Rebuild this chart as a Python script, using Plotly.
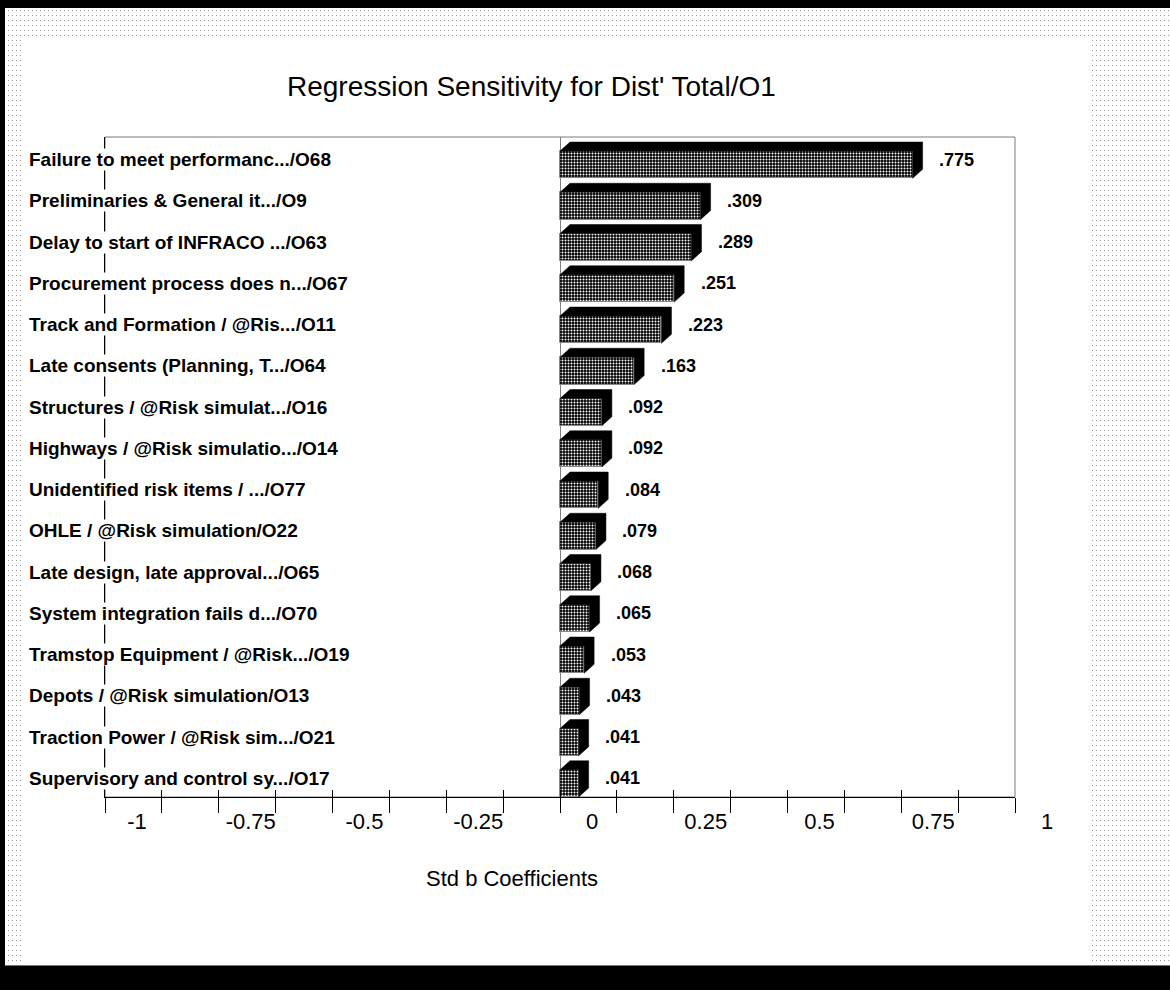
import base64
import plotly.graph_objects as go

# ---------------- data ----------------
labels = [
    "Failure to meet performanc.../O68",
    "Preliminaries & General it.../O9",
    "Delay to start of INFRACO .../O63",
    "Procurement process does n.../O67",
    "Track and Formation / @Ris.../O11",
    "Late consents (Planning, T.../O64",
    "Structures / @Risk simulat.../O16",
    "Highways / @Risk simulatio.../O14",
    "Unidentified risk items / .../O77",
    "OHLE / @Risk simulation/O22",
    "Late design, late approval.../O65",
    "System integration fails d.../O70",
    "Tramstop Equipment / @Risk.../O19",
    "Depots / @Risk simulation/O13",
    "Traction Power / @Risk sim.../O21",
    "Supervisory and control sy.../O17",
]
values = [0.775, 0.309, 0.289, 0.251, 0.223, 0.163, 0.092, 0.092,
          0.084, 0.079, 0.068, 0.065, 0.053, 0.043, 0.041, 0.041]
tick_vals = [-1, -0.75, -0.5, -0.25, 0, 0.25, 0.5, 0.75, 1]
tick_text = ["-1", "-0.75", "-0.5", "-0.25", "0", "0.25", "0.5", "0.75", "1"]
title_text = "Regression Sensitivity for Dist' Total/O1"
x_title = "Std b Coefficients"

# ---------------- layout geometry ----------------
W, H = 1170, 990
L, R, T, B = 105, 155, 137, 193
PW, PH = W - L - R, H - T - B
n = len(values)
pos = list(range(n))
XR = [-1, 1]
px_x = (XR[1] - XR[0]) / PW          # data units per pixel (x)
px_y = n / PH                         # data units per pixel (y)

FONT = "Liberation Sans, Arial, sans-serif"

face_lo = -0.16
face_w = 0.66
dxd = 10 * px_x
dyd = 9 * px_y

# 3D top/right faces computed from values
poly_x, poly_y = [], []
for k, v in zip(pos, values):
    yt = k + face_lo
    yb = yt + face_w
    xs = [0, dxd, v + dxd, v + dxd, v, v, 0]
    ys = [yt, yt - dyd, yt - dyd, yb - dyd, yb, yt, yt]
    poly_x += xs + [None]
    poly_y += ys + [None]

fig = go.Figure()
fig.add_trace(go.Bar(
    x=values, y=pos, orientation="h", width=face_w, offset=face_lo,
    marker=dict(color="black",
                pattern=dict(shape=".", fgcolor="white", bgcolor="black",
                             size=3, solidity=0.35, fillmode="replace"),
                line=dict(color="#888888", width=1)),
    hoverinfo="skip", showlegend=False))
fig.add_trace(go.Scatter(
    x=poly_x, y=poly_y, mode="lines", fill="toself", fillcolor="black",
    line=dict(color="black", width=0.5), hoverinfo="skip", showlegend=False))
# helper trace for the overlay tick axis
fig.add_trace(go.Scatter(x=[values[0]], y=[pos[0]], xaxis="x2", mode="markers",
                         marker=dict(opacity=0), hoverinfo="skip", showlegend=False))

annotations = []
for k, (lab, v) in enumerate(zip(labels, values)):
    annotations.append(dict(
        x=(28 - L) / PW, xref="paper", y=k, yref="y", xanchor="left",
        yanchor="middle", yshift=-2, text=lab, showarrow=False,
        bgcolor="white", borderpad=0,
        font=dict(family=FONT, size=19, color="black", weight="bold")))
    annotations.append(dict(
        x=v + 24.5 * px_x, xref="x", y=k, yref="y", xanchor="left",
        yanchor="middle", yshift=-2, text=f"{v:.3f}".lstrip("0"),
        showarrow=False,
        font=dict(family=FONT, size=18, color="black", weight="bold")))
annotations.append(dict(
    x=(531 - L) / PW, xref="paper", y=1 + (T - 86) / PH, yref="paper",
    text=title_text, showarrow=False, xanchor="center", yanchor="middle",
    font=dict(family=FONT, size=28, color="black")))
annotations.append(dict(
    x=(512 - L) / PW, xref="paper", y=-(878 - (H - B)) / PH, yref="paper",
    text=x_title, showarrow=False, xanchor="center", yanchor="middle",
    font=dict(family=FONT, size=22, color="black")))

# dotted background image (decoration)
svg = (
    f"<svg xmlns='http://www.w3.org/2000/svg' width='{W}' height='{H}'>"
    "<defs><pattern id='p' width='4' height='5' patternUnits='userSpaceOnUse'>"
    "<rect width='4' height='5' fill='white'/>"
    "<rect x='0' y='0' width='1' height='1' fill='#9a9a9a'/></pattern></defs>"
    f"<rect x='5' y='8' width='{W-5}' height='958' fill='url(#p)'/>"
    "<rect x='22' y='36' width='1068' height='930' fill='white'/>"
    f"<rect x='5' y='965' width='{W-5}' height='1' fill='#777777'/>"
    "</svg>"
)
src = "data:image/svg+xml;base64," + base64.b64encode(svg.encode()).decode()

fig.update_layout(
    width=W, height=H,
    margin=dict(l=L, r=R, t=T, b=B, pad=0),
    paper_bgcolor="black", plot_bgcolor="rgba(0,0,0,0)",
    showlegend=False, bargap=0,
    font=dict(family=FONT, color="black"),
    annotations=annotations,
    images=[dict(source=src, xref="paper", yref="paper",
                 x=-L / PW, y=1 + T / PH, sizex=W / PW, sizey=H / PH,
                 xanchor="left", yanchor="top", sizing="stretch",
                 layer="below")],
    shapes=[dict(type="rect", xref="paper", yref="paper", x0=0, x1=1, y0=0, y1=1,
                 line=dict(color="#7a7a7a", width=1), layer="below")],
    xaxis=dict(range=XR, showgrid=False, zeroline=True, zerolinecolor="#808080",
               zerolinewidth=1, showline=True, linecolor="black", linewidth=1,
               tickmode="array", tickvals=tick_vals, ticktext=tick_text,
               ticks="outside", ticklen=15, tickcolor="black", tickwidth=1,
               ticklabelshift=32, ticklabelstandoff=-10,
               tickfont=dict(family=FONT, size=22, color="black"),
               minor=dict(tick0=-1, dtick=0.125, ticks="outside", ticklen=15,
                          tickcolor="black", tickwidth=1, showgrid=False),
               fixedrange=True),
    xaxis2=dict(range=XR, overlaying="x", anchor="y", side="bottom",
                showgrid=False, zeroline=False, showline=False,
                tickmode="linear", tick0=-1, dtick=0.125, ticks="inside",
                ticklen=7, tickcolor="black", tickwidth=1,
                showticklabels=False, fixedrange=True),
    yaxis=dict(range=[n - 0.5, -0.5], showgrid=False, zeroline=False,
               showline=True, linecolor="black", linewidth=1,
               showticklabels=False, ticks="", fixedrange=True),
)

fig.write_html("out.html")
